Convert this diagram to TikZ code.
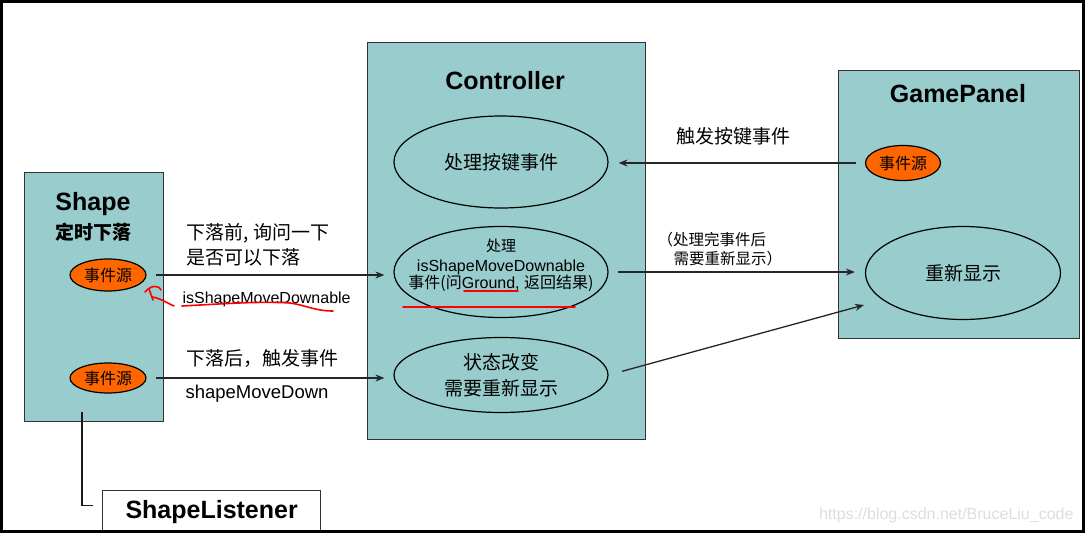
\documentclass[tikz,border=0pt]{standalone}
\usepackage{fontspec}
\setmainfont{Liberation Sans}
\newfontfamily\cjk{Noto Sans CJK SC}
\usetikzlibrary{shapes.geometric,arrows.meta}
\definecolor{teal1}{RGB}{153,204,204}
\definecolor{orng}{RGB}{255,102,0}
\definecolor{bord}{RGB}{50,50,50}
\begin{document}
\begin{tikzpicture}[x=1pt,y=-1pt,
  panel/.style={rectangle,draw=bord,line width=1.3pt,fill=teal1,anchor=north west,inner sep=0pt},
  evsrc/.style={ellipse,draw=black,line width=1.2pt,fill=orng,minimum width=76pt,minimum height=32pt,inner sep=0pt,font=\fontsize{16}{18}\selectfont\cjk},
  bigell/.style={ellipse,draw=black,line width=1.2pt,minimum width=214pt,inner sep=0pt,align=center},
  arr/.style={-{Stealth[length=9pt,width=7pt]},line width=1.3pt,draw=black!85},
  title/.style={font=\fontsize{25}{28}\selectfont\bfseries},
  lbl/.style={font=\fontsize{19}{25}\selectfont\cjk,align=left},
  redmk/.style={draw=red,line width=1.6pt,line cap=round,line join=round}]
\useasboundingbox (0,0) rectangle (1085,533);
\fill[white] (0,0) rectangle (1085,533);

% panels
\node[panel,minimum width=139pt,minimum height=249pt] (shape) at (24,172) {};
\node[panel,minimum width=278pt,minimum height=397pt] (ctrl) at (367,42) {};
\node[panel,minimum width=241pt,minimum height=268pt] (gp) at (838,70) {};
\node[rectangle,draw=bord,line width=1.3pt,fill=white,anchor=north west,minimum width=218pt,minimum height=42pt,inner sep=0pt,font=\fontsize{25}{28}\selectfont\bfseries] (sl) at (102,490) {ShapeListener};

% titles
\node[title] (shapeT) at (93,204) {Shape};
\node[font=\fontsize{19}{22}\selectfont\cjk\bfseries] (shapeS) at (93,232) {定时下落};
\node[title] (ctrlT) at (505,81) {Controller};
\node[title] (gpT) at (958,94) {GamePanel};

% event sources
\node[evsrc] (es1) at (108,275) {事件源};
\node[evsrc,minimum height=30pt] (es2) at (108,378) {事件源};
\node[evsrc,minimum width=75pt,minimum height=35pt] (gpes) at (903,163) {事件源};

% controller ellipses
\node[bigell,minimum height=92pt,font=\fontsize{19}{22}\selectfont\cjk] (ctrl1) at (501,162) {处理按键事件};
\node[bigell,minimum height=91pt] (ctrl2) at (501,272) {};
\node[anchor=base,font=\fontsize{15}{17}\selectfont\cjk] (c2a) at (501,251) {处理};
\node[anchor=base,font=\fontsize{16}{18}\selectfont] (c2b) at (501,271) {isShapeMoveDownable};
\node[anchor=base,font=\fontsize{16}{18}\selectfont] (c2c) at (501,288) {{\cjk 事件(问}Ground, {\cjk 返回结果)}};
\node[bigell,minimum height=75pt,font=\fontsize{19}{26}\selectfont\cjk] (ctrl3) at (501,375) {状态改变\\需要重新显示};
\node[bigell,minimum width=195pt,minimum height=93pt,font=\fontsize{19}{22}\selectfont\cjk] (redraw) at (963,273) {重新显示};

% connectors
\draw[arr,shorten <=9pt,shorten >=10pt] (gpes.west) -- (gpes.west -| ctrl1.east);
\draw[arr,shorten <=9pt,shorten >=9pt] (es1.east) -- (es1.east -| ctrl2.west);
\draw[arr,shorten <=9pt,shorten >=9pt] (es2.east) -- (es2.east -| ctrl3.west);
\draw[arr,shorten <=9pt,shorten >=10pt] (ctrl2.east) -- (ctrl2.east -| redraw.west);
\coordinate (t5) at (864,305);
\draw[arr,shorten <=14pt] (ctrl3.east) -- (t5);
\draw[line width=1.3pt,draw=black!90] ([xshift=58pt,yshift=10pt]shape.south west) |- ([yshift=6pt,xshift=-9pt]sl.west);

% labels
\node[lbl] (l1) at (733,136) {触发按键事件};
\node[lbl,anchor=west] (l2) at (183,245) {下落前, 询问一下\\是否可以下落};
\node[anchor=west,font=\fontsize{16}{18}\selectfont] (l3) at (179,299) {isShapeMoveDownable};
\node[lbl,anchor=west] (l4) at (183,358) {下落后，触发事件};
\node[anchor=west,font=\fontsize{18.5}{20}\selectfont] (l5) at (182,394) {shapeMoveDown};
\node[anchor=west,align=left,font=\fontsize{15.5}{19}\selectfont\cjk] (l6) at (654,249) {（处理完事件后\\\hspace*{16pt}需要重新显示）};

% red annotations
\draw[redmk] (182,306) .. controls (220,304) and (260,301) .. (290,303) .. controls (305,305) and (315,311) .. (333,311);
\draw[redmk] (145,292) .. controls (150,286) and (158,284) .. (161,290);
\draw[redmk] (149,289) -- (153,300);
\draw[redmk] (152,297) .. controls (160,298) and (167,303) .. (174,306);
\draw[redmk] (464,291) -- (518,291);
\draw[redmk] (403,307) -- (575,307);

% watermark
\node[anchor=east,font=\fontsize{16}{18}\selectfont,text=black!13] (wm) at (1077,515) {https://blog.csdn.net/BruceLiu\_code};

% frame
\draw[line width=2.6pt,black] (1.3,1.3) rectangle (1083.7,531.7);
\end{tikzpicture}
\end{document}
